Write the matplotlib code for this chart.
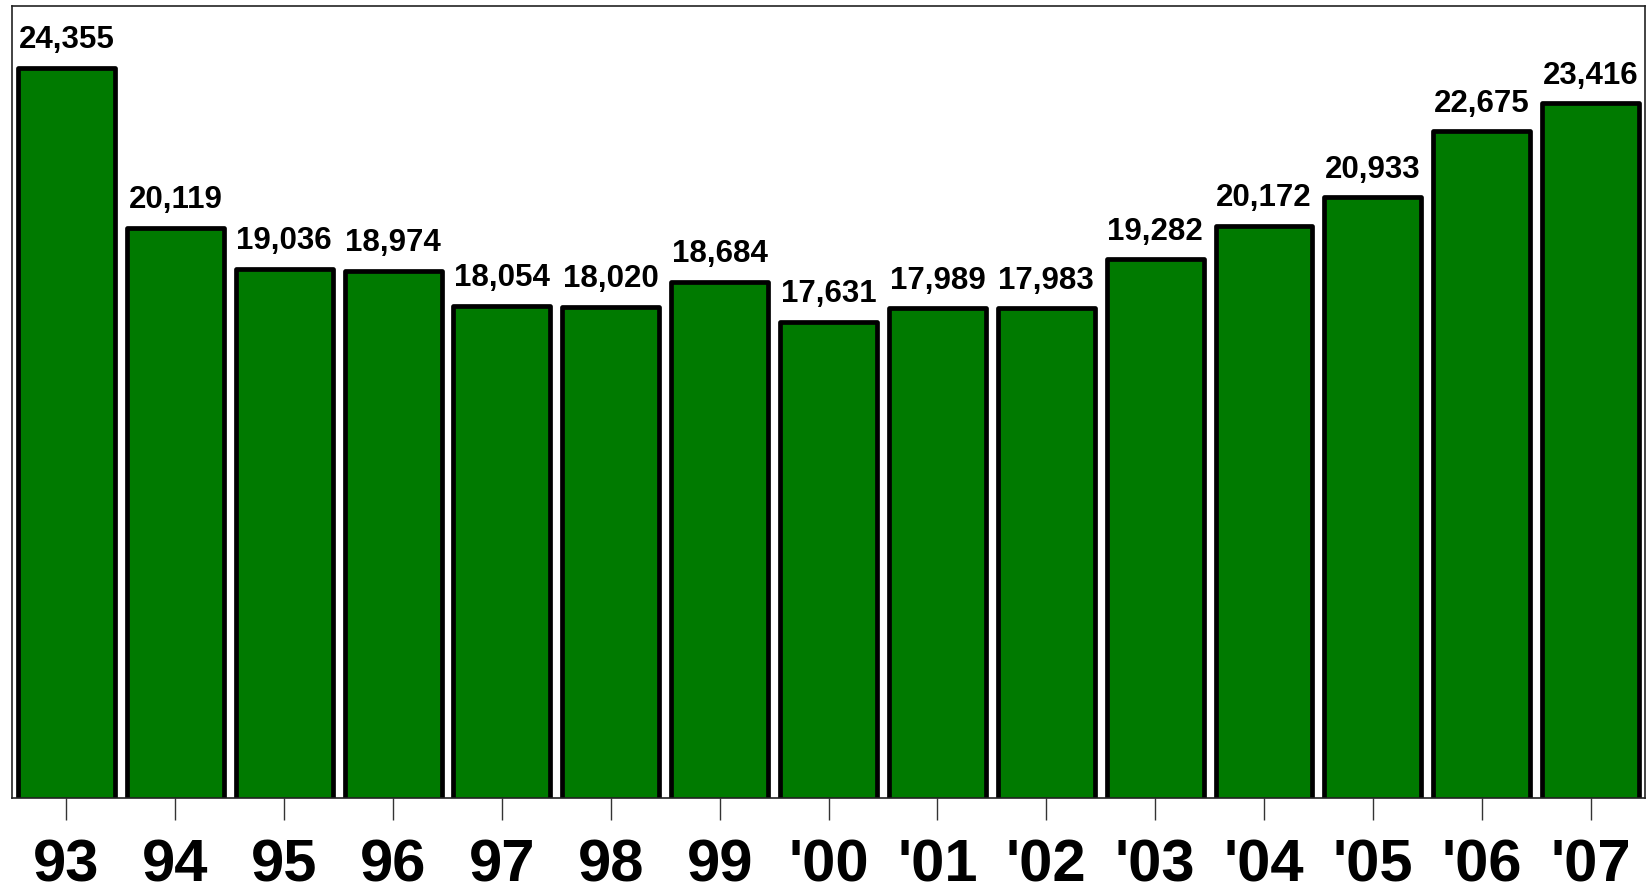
import matplotlib
matplotlib.use("Agg")
import matplotlib.pyplot as plt

years = ["93", "94", "95", "96", "97", "98", "99", "'00", "'01", "'02",
         "'03", "'04", "'05", "'06", "'07"]
counts = [24355, 20119, 19036, 18974, 18054, 18020, 18684, 17631, 17989,
          17983, 19282, 20172, 20933, 22675, 23416]

plt.rcParams['font.family'] = ['Liberation Sans', 'DejaVu Sans']

fig = plt.figure(figsize=(16.49, 8.96), dpi=100)
ax = fig.add_axes([0.0073, 0.1094, 0.9903, 0.884])

x = range(len(years))
bars = ax.bar(x, counts, width=0.89, color='#007a00', edgecolor='black',
              linewidth=3.4, joinstyle='round')

# values above bars
ax.bar_label(bars, labels=[f"{v:,}" for v in counts], padding=9,
             fontsize=22.5, fontweight='bold')

ax.set_xlim(-0.5, len(years) - 0.5)
ax.set_ylim(5000, 26000)
ax.set_xticks(list(x))
ax.set_xticklabels(years, fontsize=43, fontweight='bold')
ax.tick_params(axis='x', length=16, width=1, color='#333333', pad=13)
ax.set_yticks([])

for s in ax.spines.values():
    s.set_color('#222222')
    s.set_linewidth(1.2)

fig.savefig("out.png", dpi=100)
